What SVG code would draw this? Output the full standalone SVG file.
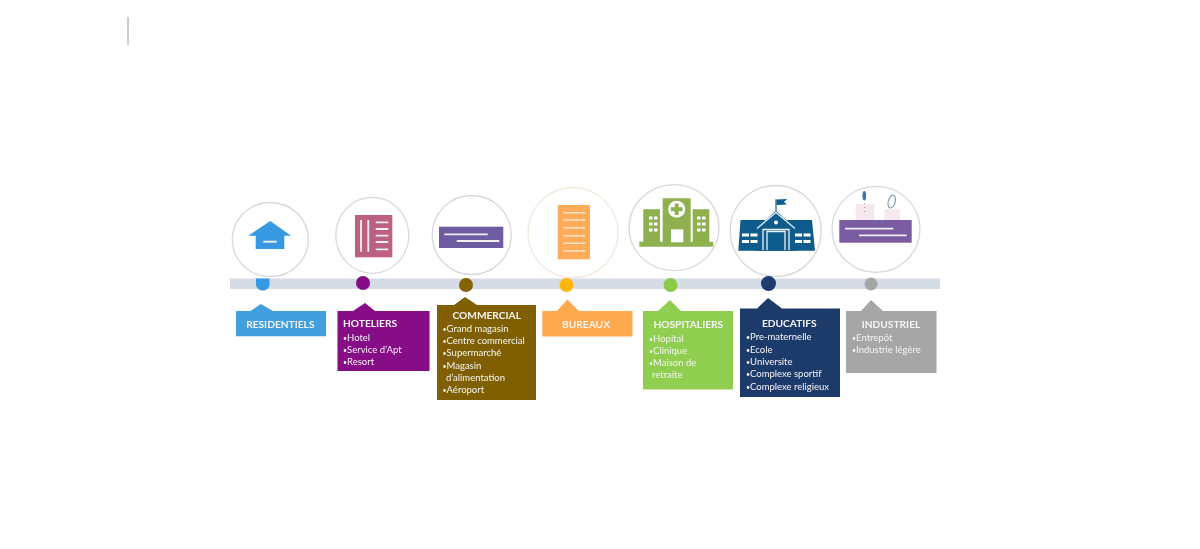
<svg xmlns="http://www.w3.org/2000/svg" width="1200" height="549" viewBox="0 0 1200 549">
<defs><filter id="soft" x="-5%" y="-5%" width="110%" height="110%"><feGaussianBlur stdDeviation="0.35"/></filter></defs>
<style>
text{font-family:"Lato","Open Sans","Liberation Sans",sans-serif;fill:#f4f4f4;font-size:9.500px}
.t{font-weight:700;font-size:10.200px;text-anchor:middle}
.b{font-size:7px}
.ring{fill:#fff;stroke:#d8d8dc;stroke-width:1.300}
.w{stroke:#f3eef3;stroke-width:1.800;fill:none}
</style>
<rect width="1200" height="549" fill="#fff"/>
<line x1="128" y1="17" x2="128" y2="45" stroke="#9a9a9a" stroke-width="1"/>
<g filter="url(#soft)">
<g id="connectors"><rect id="timeline" x="230" y="278.500" width="710" height="10.500" fill="#d5dbe5"/></g>

<g id="residentiels">
<ellipse class="ring" cx="270.300" cy="239.500" rx="38" ry="37"/>
<path d="M270.300 221L248.300 235.700H255.700V249H284.300V235.700H291Z" fill="#3498e0"/>
<rect x="263.300" y="240.700" width="13.400" height="2" fill="#e8f2fb"/>
<path d="M256 278.500H269.500V284C269.500 288 266.500 290.500 262.700 290.500S256 288 256 284Z" fill="#3498e0"/>
<path d="M236 311H250.700L260.700 304L273 311H326V336.300H236Z" fill="#3f9fdc"/>
<text class="t" x="280.300" y="327.500">RESIDENTIELS</text>
</g>

<g id="hoteliers">
<ellipse class="ring" cx="372.300" cy="235.300" rx="36.500" ry="38"/>
<rect x="355" y="215" width="37.300" height="42.300" fill="#bc5f80"/>
<path class="w" d="M361 220V251.700M368.300 220V251.700M375.700 222.300H388.300M375.700 229H388.300M375.700 235.700H388.300M375.700 242H388.300M375.700 249.300H388.300"/>
<circle cx="363" cy="283" r="7" fill="#860a86"/>
<path d="M337.500 311H353L365 303L375 311H429.500V371H337.500Z" fill="#860a86"/>
<text class="t" x="343" y="327.300" style="text-anchor:start">HOTELIERS</text>
<text x="343" y="340.700"><tspan class="b">•</tspan>Hotel</text>
<text x="343" y="352.500"><tspan class="b">•</tspan>Service d’Apt</text>
<text x="343" y="365"><tspan class="b">•</tspan>Resort</text>
</g>

<g id="commercial">
<circle class="ring" cx="471.700" cy="235" r="39.500"/>
<rect x="439" y="226.700" width="64.300" height="21.300" fill="#6e5ba3"/>
<path class="w" d="M444.300 234.300H487.700M456.700 241H499.300"/>
<circle cx="466" cy="285" r="7" fill="#866206"/>
<path d="M437 305H454L465 297L477 305H536V400H437Z" fill="#7f5f05"/>
<text class="t" x="486.700" y="319">COMMERCIAL</text>
<text x="442.500" y="331.700"><tspan class="b">•</tspan>Grand magasin</text>
<text x="442.500" y="344"><tspan class="b">•</tspan>Centre commercial</text>
<text x="442.500" y="356.300"><tspan class="b">•</tspan>Supermarché</text>
<text x="442.500" y="368.500"><tspan class="b">•</tspan>Magasin</text>
<text x="446" y="380.700">d’alimentation</text>
<text x="442.500" y="393"><tspan class="b">•</tspan>Aéroport</text>
</g>

<g id="bureaux">
<circle cx="573" cy="232.700" r="45" fill="#fff" stroke="#f3e8dc" stroke-width="1.300"/>
<rect x="557.700" y="205" width="32.300" height="54.300" fill="#ffac5a"/>
<path d="M563.300 212.700H585M563.300 220H585M563.300 227.700H585M563.300 235.700H585M563.300 243.300H585M563.300 251H585" stroke="#ffe2c4" stroke-width="1.500"/>
<circle cx="566.500" cy="285" r="7" fill="#ffb60f"/>
<path d="M542.300 311H557L567.300 299.500L579 311H632.500V336.500H542.300Z" fill="#ffa94f"/>
<text class="t" x="586" y="327.500">BUREAUX</text>
</g>

<g id="hospitaliers">
<ellipse class="ring" cx="674" cy="227.700" rx="45" ry="43"/>
<path d="M639.300 241.700H643.300V209.300H660V241.700H662.700V198.300H690.700V241.700H692.700V209.300H709.300V241.700H713.300V246.700H639.300Z" fill="#8fb04f"/>
<circle cx="676.700" cy="209.300" r="8.500" fill="#fff"/>
<path d="M674.700 203.500H678.700V207.300H682.500V211.300H678.700V215.100H674.700V211.300H670.900V207.300H674.700Z" fill="#8fb04f"/>
<rect x="671" y="229.300" width="12.300" height="13" fill="#fff"/>
<path d="M649 216.500h3.500v3h-3.500zM654 216.500h3.500v3h-3.500zM649 222.500h3.500v3h-3.500zM654 222.500h3.500v3h-3.500zM649 228.500h3.500v3h-3.500zM654 228.500h3.500v3h-3.500zM697 216.500h3.500v3h-3.500zM702 216.500h3.500v3h-3.500zM697 222.500h3.500v3h-3.500zM702 222.500h3.500v3h-3.500zM697 228.500h3.500v3h-3.500zM702 228.500h3.500v3h-3.500z" fill="#fff"/>
<circle cx="670.500" cy="285" r="7" fill="#8ccb4a"/>
<path d="M643 311H658L670 300L681 311H733V389.500H643Z" fill="#8fce50"/>
<text class="t" x="688.300" y="328">HOSPITALIERS</text>
<text x="649" y="341.700"><tspan class="b">•</tspan>Hopital</text>
<text x="649" y="353.500"><tspan class="b">•</tspan>Clinique</text>
<text x="649" y="366"><tspan class="b">•</tspan>Maison de</text>
<text x="652" y="378">retraite</text>
</g>

<g id="educatifs">
<circle class="ring" cx="775.700" cy="231" r="45.500" stroke="#cfcfd3"/>
<path d="M740.500 220H812L815 250.700H738.300Z" fill="#0f5c8c"/>
<path d="M776 210.700L755 230V250.700H797V230Z" fill="#0f5c8c"/>
<path d="M776 199.300V211" stroke="#0f5c8c" stroke-width="1.200"/>
<path d="M776.500 199.500L787 199L784 202L787 204.500L776.500 205Z" fill="#0f5c8c"/>
<path d="M757 228.500L776 212.500L795 228.500M763 250V229.500H789V250M767 250V231.500H785V250" stroke="#e8f1f6" stroke-width="1.300" fill="none"/>
<circle cx="776" cy="222.500" r="2" fill="#fff"/>
<path d="M742 233.500h7v3h-7zM750.500 233.500h7v3h-7zM742 240h7v3h-7zM750.500 240h7v3h-7zM795 233.500h7v3h-7zM803.500 233.500h7v3h-7zM795 240h7v3h-7zM803.500 240h7v3h-7z" fill="#fff"/>
<circle cx="768.500" cy="283.500" r="7.500" fill="#1f3a6e"/>
<path d="M740 308.500H757L768 298L782 308.500H840V397H740Z" fill="#1f3a6b"/>
<text class="t" x="789.300" y="327.300">EDUCATIFS</text>
<text x="746" y="340"><tspan class="b">•</tspan>Pre-maternelle</text>
<text x="746" y="352.700"><tspan class="b">•</tspan>Ecole</text>
<text x="746" y="365"><tspan class="b">•</tspan>Universite</text>
<text x="746" y="377"><tspan class="b">•</tspan>Complexe sportif</text>
<text x="746" y="389.500"><tspan class="b">•</tspan>Complexe religieux</text>
</g>

<g id="industriel">
<ellipse class="ring" cx="876" cy="229.300" rx="44" ry="43"/>
<rect x="855.700" y="204" width="18.600" height="16" fill="#f6e8ee"/>
<rect x="884.300" y="209.300" width="15.700" height="10.700" fill="#f6e8ee"/>
<ellipse cx="864.300" cy="195.700" rx="1.800" ry="4.800" fill="#3f6fa8"/>
<path d="M864.800 203V215" stroke="#8a8aa0" stroke-width="1" stroke-dasharray="1 3"/>
<ellipse cx="891.700" cy="201.700" rx="3.500" ry="6.500" fill="none" stroke="#6f8fa0" stroke-width="1" transform="rotate(15 891.700 201.700)"/>
<rect x="839.300" y="220" width="72.400" height="22.700" fill="#7a5ca3"/>
<path class="w" d="M845 228.700H893.300M859 235.300H906.700"/>
<circle cx="871" cy="284" r="6.500" fill="#a6a6a6"/>
<path d="M846 311H861L871 300L883 311H936.500V373H846Z" fill="#a6a6a6"/>
<text class="t" x="891" y="327.700">INDUSTRIEL</text>
<text x="852" y="340.700"><tspan class="b">•</tspan>Entrepôt</text>
<text x="852" y="353"><tspan class="b">•</tspan>Industrie légère</text>
</g>
</g>
</svg>
